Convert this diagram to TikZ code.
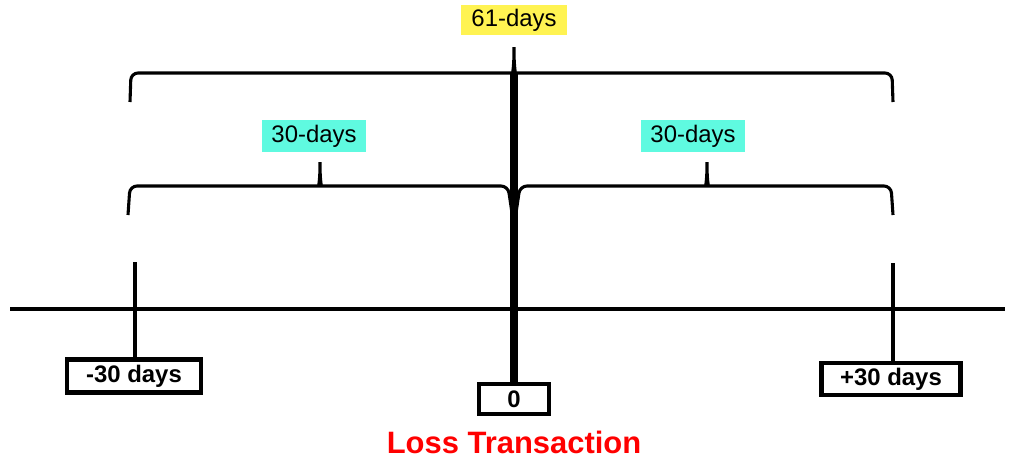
\documentclass[tikz,border=0pt]{standalone}
\usepackage{fontspec}
\setmainfont{Liberation Sans}
\definecolor{spanyellow}{HTML}{FFF352}
\definecolor{spanaqua}{HTML}{5FFAE0}
\definecolor{lossred}{HTML}{FF0000}

\begin{document}
\begin{tikzpicture}[x=0.025cm, y=-0.025cm]
        \tikzstyle{every node}=[inner sep=0pt, font=\fontsize{17}{20}\selectfont]
        \tikzstyle{span}=[minimum height=0.75cm, minimum width=2.6cm]
        \tikzstyle{daybox}=[draw, line width=3pt, font=\fontsize{17}{20}\selectfont\bfseries]
        \tikzstyle{brace}=[line width=2.2pt, rounded corners=5pt]
        \tikzstyle{tickline}=[line width=3pt]
        \useasboundingbox (0,0) rectangle (1013,463);
        % labels and boxes
        \node [span, fill=spanyellow, minimum width=2.65cm] (n61) at (514,20) {61-days};
        \node [span, fill=spanaqua, minimum height=0.8cm] (l30) at (314,136) {30-days};
        \node [span, fill=spanaqua, minimum height=0.8cm] (r30) at (693,136) {30-days};
        \node [daybox, minimum width=3.35cm, minimum height=0.825cm] (bm) at (134,376) {-30 days};
        \node [daybox, minimum width=1.75cm, minimum height=0.75cm] (b0) at (514,399) {0};
        \node [daybox, minimum width=3.475cm, minimum height=0.8cm] (bp) at (891,379) {+30 days};
        \node [font=\fontsize{22}{26}\selectfont\bfseries, text=lossred] (loss) at (514,442) {Loss Transaction};
        % braces
        \draw [brace] (130,102) -- (131,73) -- (506,73) .. controls (512,73) and (514,70) .. (514,43)
            .. controls (514,70) and (516,73) .. (522,73) -- (892,73) -- (893,102);
        \draw [brace] (128,215) -- (130,186) -- (312,186) .. controls (318,186) and (320,183) .. (320,158)
            .. controls (320,183) and (322,186) .. (328,186) -- (508,186) -- (512,213);
        \draw [brace] (516,213) -- (520,186) -- (699,186) .. controls (705,186) and (707,183) .. (707,158)
            .. controls (707,183) and (709,186) .. (715,186) -- (891,186) -- (893,215);
        % time line
        \draw [line width=2.2pt] (10,309) -- (1005,309);
        \draw [tickline] (bm.north) ++(1,0) -- ++(0,-95);
        \draw [tickline] (bp.north) ++(2,0) -- ++(0,-98);
        \draw [line width=6pt] (b0.north) -- (514,72);
    \end{tikzpicture}
\end{document}
